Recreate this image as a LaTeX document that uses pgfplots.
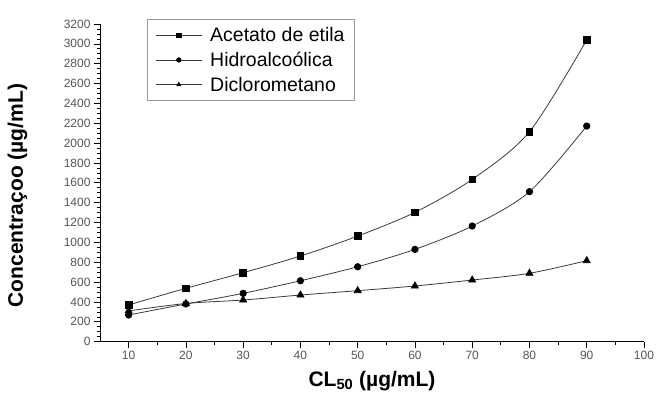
\documentclass[border=0pt]{standalone}
\usepackage{pgfplots}
\pgfplotsset{compat=1.18}
\usepackage{fontspec}
\setmainfont{Liberation Sans}

\definecolor{linegray}{HTML}{3A3A3A}
\definecolor{tickgray}{HTML}{555555}

\begin{document}
\begin{tikzpicture}
\begin{axis}[
  name=ax,
  scale only axis,
  width=544pt, height=317.7pt,
  xmin=5, xmax=100, ymin=0, ymax=3200,
  axis x line=bottom, axis y line=left,
  axis line style={-, black, line width=0.9pt},
  xtick={10,20,...,100},
  ytick={0,200,...,3200},
  minor x tick num=1,
  minor y tick num=3,
  tick align=outside,
  major tick length=6pt,
  minor tick length=3pt,
  tick style={black, line width=0.7pt},
  /pgf/number format/assume math mode=true,
  /pgf/number format/set thousands separator={},
  ticklabel style={font=\fontsize{12}{13}\selectfont, text=tickgray},
  xlabel={\textbf{CL\textsubscript{50} (µg/mL)}},
  ylabel={\textbf{Concentraçoo (µg/mL)}},
  xlabel style={at={(axis description cs:0.5,-0.142)}, anchor=base, font=\fontsize{21}{23}\selectfont},
  ylabel style={at={(axis description cs:-0.142,0.46)}, anchor=base, rotate=0, font=\fontsize{21}{23}\selectfont},
  legend style={at={(rel axis cs:0.0864,1.0157)}, anchor=north west,
    draw=gray!80, line width=0.8pt, fill=white,
    font=\fontsize{19.5}{21}\selectfont, row sep=5pt,
    inner xsep=8pt, inner ysep=6pt},
  legend cell align=left,
  legend image code/.code={
    \draw[mark repeat=2,mark phase=2, mark size=2.2pt] plot coordinates {(0pt,0pt) (23pt,0pt) (46pt,0pt)};
    \path (52pt,0pt);
  },
]
\addplot[linegray, line width=0.8pt, smooth, mark=square*, mark size=3.3pt,
  mark options={fill=black, draw=black, solid}] coordinates {
  (10,370) (20,538) (30,695) (40,863) (50,1064) (60,1303) (70,1635) (80,2115) (90,3040)
};
\addlegendentry{Acetato de etila}
\addplot[linegray, line width=0.8pt, smooth, mark=*, mark size=3.2pt,
  mark options={fill=black, draw=black, solid}] coordinates {
  (10,269) (20,380) (30,487) (40,614) (50,755) (60,930) (70,1165) (80,1511) (90,2172)
};
\addlegendentry{Hidroalcoólica}
\addplot[linegray, line width=0.8pt, smooth, mark=triangle*, mark size=4pt,
  mark options={fill=black, draw=black, solid}] coordinates {
  (10,310) (20,385) (30,420) (40,470) (50,514) (60,561) (70,621) (80,689) (90,816)
};
\addlegendentry{Diclorometano}
\end{axis}
\pgfresetboundingbox
\path ([xshift=-100pt,yshift=-54.3pt]ax.south west) rectangle ([xshift=556pt,yshift=341.7pt]ax.south west);
\end{tikzpicture}
\end{document}
